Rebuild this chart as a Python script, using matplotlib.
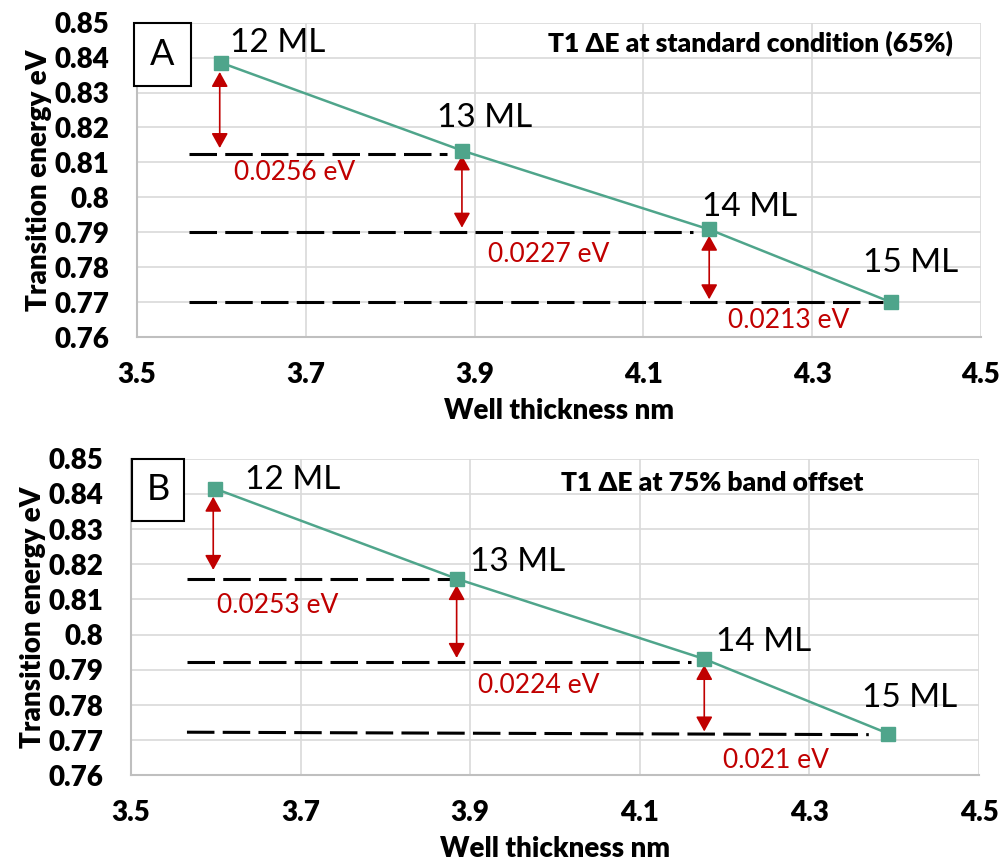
import matplotlib
matplotlib.use("Agg")
import matplotlib.pyplot as plt
from matplotlib.patches import Rectangle

plt.rcParams['font.family'] = ['Lato', 'DejaVu Sans']

# data
thick_a = [3.600, 3.885, 4.178, 4.393]
energy_a = [0.8385, 0.8134, 0.7908, 0.7700]
thick_b = [3.599, 3.884, 4.176, 4.393]
energy_b = [0.8415, 0.8159, 0.7931, 0.7719]
ml_labels = ["12 ML", "13 ML", "14 ML", "15 ML"]

# dashed reference levels: (x start, x end, y start, y end)
dash_a = [(3.562, 3.867, 0.8125, 0.8125), (3.562, 4.159, 0.7901, 0.7901), (3.562, 4.384, 0.7701, 0.7701)]
dash_b = [(3.566, 3.878, 0.8159, 0.8159), (3.566, 4.160, 0.7922, 0.7922), (3.566, 4.370, 0.7723, 0.7716)]

# double arrows: (x, y top, y bottom) and difference labels
arr_a = [(3.598, 0.8359, 0.8141), (3.885, 0.8120, 0.7913), (4.178, 0.7890, 0.7708)]
arr_b = [(3.597, 0.8392, 0.8184), (3.884, 0.8141, 0.7934), (4.176, 0.7914, 0.7725)]
diff_a = ["0.0256 eV", "0.0227 eV", "0.0213 eV"]
diff_b = ["0.0253 eV", "0.0224 eV", "0.021 eV"]
diff_pos_a = [(3.615, 0.8071), (3.916, 0.7836), (4.200, 0.7646)]
diff_pos_b = [(3.601, 0.8084), (3.909, 0.7857), (4.198, 0.7644)]
ml_pos_a = [(3.610, 0.8442), (3.855, 0.8228), (4.169, 0.7973), (4.360, 0.7813)]
ml_pos_b = [(3.634, 0.8440), (3.900, 0.8207), (4.190, 0.7980), (4.362, 0.7819)]

titles = ["T1 \u0394E at standard condition (65%)", "T1 \u0394E at 75% band offset"]
title_pos = [(0.727, 0.935), (0.685, 0.923)]
letters = ["A", "B"]
box_pos = [(-0.004, 0.799, 0.064), (0.001, 0.804, 0.063)]

x_ticks = [3.5, 3.7, 3.9, 4.1, 4.3, 4.5]
y_ticks = [0.76, 0.77, 0.78, 0.79, 0.80, 0.81, 0.82, 0.83, 0.84, 0.85]

green = '#4FA58B'
red = '#C00000'

fig = plt.figure(figsize=(10.06, 8.63), dpi=100)
ax1 = fig.add_axes([0.1362, 0.6095, 0.8389, 0.3642])
ax2 = fig.add_axes([0.1302, 0.1014, 0.8430, 0.3671])

panels = [
    (ax1, thick_a, energy_a, dash_a, arr_a, diff_a, diff_pos_a, ml_pos_a),
    (ax2, thick_b, energy_b, dash_b, arr_b, diff_b, diff_pos_b, ml_pos_b),
]

for i, (ax, xs, ys, dashes, arrs, diffs, dpos, mpos) in enumerate(panels):
    ax.set_xlim(3.5, 4.5)
    ax.set_ylim(0.76, 0.85)
    ax.set_xticks(x_ticks)
    ax.set_yticks(y_ticks)
    ax.set_xticklabels(['%g' % v for v in x_ticks])
    ax.set_yticklabels(['%g' % round(v, 2) for v in y_ticks])
    ax.grid(True, color='#D9D9D9', lw=1.2)
    ax.set_axisbelow(True)
    for s in ['top', 'right']:
        ax.spines[s].set_visible(False)
    for s in ['left', 'bottom']:
        ax.spines[s].set_color('#BFBFBF')
        ax.spines[s].set_linewidth(1.5)
    ax.tick_params(axis='y', length=0, labelsize=20, pad=20)
    ax.tick_params(axis='x', length=0, labelsize=20, pad=18)
    for lab in ax.get_xticklabels() + ax.get_yticklabels():
        lab.set_fontweight('heavy')
    ax.set_xlabel('Well thickness nm', fontsize=20, fontweight='heavy', labelpad=7)
    ax.set_ylabel('Transition energy eV', fontsize=20, fontweight='heavy', labelpad=2)

    for (x0, x1, y0, y1) in dashes:
        ax.plot([x0, x1], [y0, y1], color='black', lw=2.2, dashes=(9, 2.7), zorder=2)

    ax.plot(xs, ys, color=green, lw=1.8, marker='s', markersize=9.5, zorder=4)

    for (x, yt, yb) in arrs:
        ax.annotate('', xy=(x, yb), xytext=(x, yt),
                    arrowprops=dict(arrowstyle='<|-|>,head_length=0.45,head_width=0.25',
                                    color=red, lw=1.2, shrinkA=0, shrinkB=0,
                                    mutation_scale=20), zorder=3)
    for txt, (x, y) in zip(diffs, dpos):
        ax.text(x, y, txt, color=red, fontsize=19, va='center', ha='left')
    for txt, (x, y) in zip(ml_labels, mpos):
        ax.text(x, y, txt, color='black', fontsize=24, va='center', ha='left')

    tx, ty = title_pos[i]
    ax.text(tx, ty, titles[i], transform=ax.transAxes, fontsize=19,
            fontweight='heavy', ha='center', va='center')

    bx0, by0, bx1 = box_pos[i]
    ax.add_patch(Rectangle((bx0, by0), bx1 - bx0, 1.0 - by0, transform=ax.transAxes,
                           facecolor='white', edgecolor='black', lw=1.5,
                           clip_on=False, zorder=5))
    ax.text((bx0 + bx1) / 2, (by0 + 1.0) / 2, letters[i], transform=ax.transAxes,
            fontsize=26, ha='center', va='center', zorder=6)

fig.savefig('out.png', dpi=100)
